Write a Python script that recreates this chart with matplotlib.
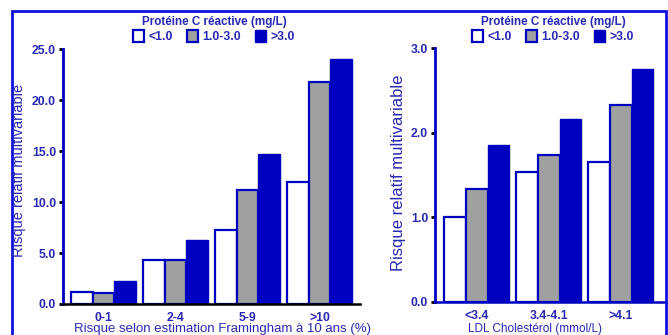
import matplotlib
matplotlib.use("Agg")
import matplotlib.pyplot as plt
import numpy as np
from matplotlib.patches import Rectangle

plt.rcParams['font.family'] = ['Liberation Sans', 'DejaVu Sans']

# ---- data ----
series_labels = ["<1.0", "1.0-3.0", ">3.0"]
legend_title = "Protéine C réactive (mg/L)"
ylabel = "Risque relatif multivariable"

left_categories = ["0-1", "2-4", "5-9", ">10"]
left_low = [1.2, 4.3, 7.3, 12.0]
left_mid = [1.1, 4.3, 11.2, 21.8]
left_high = [2.3, 6.3, 14.7, 24.0]
left_yticks = [0, 5, 10, 15, 20, 25]
left_xlabel = "Risque selon estimation Framingham à 10 ans (%)"

right_categories = ["<3.4", "3.4-4.1", ">4.1"]
right_low = [1.0, 1.54, 1.65]
right_mid = [1.33, 1.74, 2.33]
right_high = [1.85, 2.16, 2.76]
right_yticks = [0, 1, 2, 3]
right_xlabel = "LDL Cholestérol (mmol/L)"

# ---- style ----
W, H = 668, 335
BLUE = "#0000c0"
TXT = "#2828b4"
GRAY = "#a0a0a0"

fig = plt.figure(figsize=(W / 100, H / 100), dpi=100)
fig.patch.set_facecolor("white")


def px_axes(l, r, t, b):
    return fig.add_axes([l / W, (H - b) / H, (r - l) / W, (b - t) / H])


def draw_panel(ax, cats, low, mid, high, yticks, xlim, bottom_color):
    x = np.arange(len(cats))
    w = 0.3
    b1 = ax.bar(x - w, low, w, color="white", edgecolor=BLUE, linewidth=1.6)
    b2 = ax.bar(x, mid, w, color=GRAY, edgecolor=BLUE, linewidth=1.6)
    b3 = ax.bar(x + w, high, w, color=BLUE, edgecolor=BLUE, linewidth=1.0)
    ax.set_xlim(*xlim)
    ax.set_ylim(yticks[0], yticks[-1])
    ax.set_yticks(yticks)
    ax.set_yticklabels([f"{v:.1f}" for v in yticks], fontsize=8.8,
                       fontweight="bold", color=TXT)
    ax.set_xticks(x)
    ax.set_xticklabels(cats, fontsize=8.8, fontweight="bold", color=TXT)
    ax.tick_params(axis="x", length=0, pad=6)
    ax.tick_params(axis="y", length=3, width=2, color="black", pad=2,
                   direction="out")
    for s in ["top", "right"]:
        ax.spines[s].set_visible(False)
    ax.spines["left"].set_color(BLUE)
    ax.spines["left"].set_linewidth(2)
    ax.spines["bottom"].set_color(bottom_color)
    ax.spines["bottom"].set_linewidth(1.8)
    ax.patch.set_alpha(0)
    return b1, b2, b3


axL = px_axes(63, 360, 49.3, 304)
hL = draw_panel(axL, left_categories, left_low, left_mid, left_high,
                left_yticks, (-0.56, 3.56), "black")
axR = px_axes(435, 667, 48.3, 301.7)
hR = draw_panel(axR, right_categories, right_low, right_mid, right_high,
                right_yticks, (-0.58, 2.64), BLUE)

for ax, hs, cx in [(axL, hL, 214), (axR, hR, 553)]:
    leg = ax.legend(hs, series_labels, title=legend_title, ncol=3,
                    frameon=False, loc="upper center",
                    bbox_to_anchor=(cx / W, (H - 9) / H),
                    bbox_transform=fig.transFigure,
                    handlelength=0.9, handleheight=1.2, handletextpad=0.4,
                    columnspacing=1.1, borderpad=0.1, labelspacing=0.2,
                    prop={"size": 8.8, "weight": "bold"},
                    title_fontproperties={"size": 8.4, "weight": "bold"})
    leg.get_title().set_color(TXT)
    for t in leg.get_texts():
        t.set_color(TXT)
    leg._legend_box.sep = 1

# y labels
fig.text(19 / W, 1 - 170 / H, ylabel, rotation=90, ha="center", va="center",
         fontsize=10.5, color=TXT)
fig.text(398 / W, 1 - 173 / H, ylabel, rotation=90, ha="center", va="center",
         fontsize=12, color=TXT)

# x labels
fig.text(222 / W, 1 - 323 / H, left_xlabel, ha="center", va="top",
         fontsize=9.5, color=TXT)
fig.text(535 / W, 1 - 323 / H, right_xlabel, ha="center", va="top",
         fontsize=8.5, color=TXT)

# outer frame
fig.add_artist(Rectangle((12 / W, -0.1), (666 - 12) / W, (H - 11) / H + 0.1,
                         transform=fig.transFigure, fill=False,
                         edgecolor="#1010e0", linewidth=2))

fig.savefig("out.png", dpi=100)
